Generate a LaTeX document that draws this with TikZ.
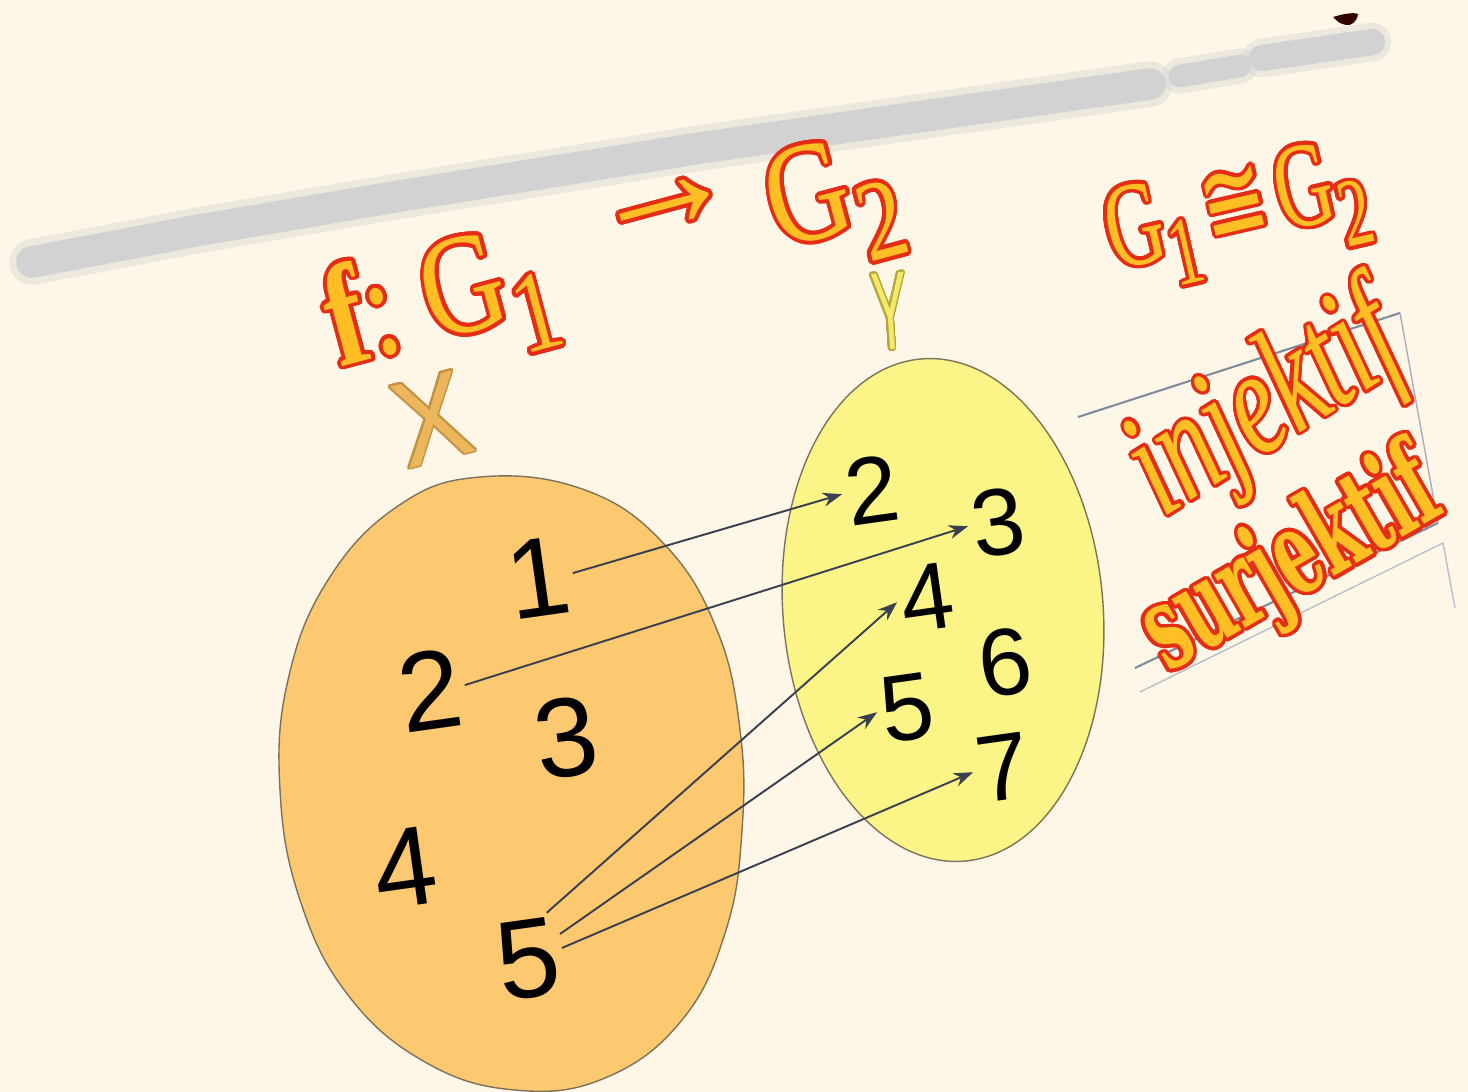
\documentclass[tikz,border=0pt]{standalone}
\usepackage{fontspec}
\setmainfont{Liberation Serif}
\newfontfamily\digitfont{Liberation Sans}
\newfontfamily\heavyfont{DejaVu Serif}
\newfontfamily\symbolfont{DejaVu Sans}
\usepackage{contour}
\contournumber{24}
\usetikzlibrary{arrows.meta, positioning}

\definecolor{paper}{RGB}{254,247,231}
\definecolor{setorange}{RGB}{252,200,112}
\definecolor{setyellow}{RGB}{251,245,135}
\definecolor{rimgray}{RGB}{125,115,90}
\definecolor{titlegold}{RGB}{255,190,35}
\definecolor{titlered}{RGB}{228,45,20}
\definecolor{mapline}{RGB}{58,64,80}
\definecolor{boxline}{RGB}{128,140,158}
\definecolor{smear}{RGB}{210,210,210}
\definecolor{xtan}{RGB}{236,182,92}
\definecolor{xbrown}{RGB}{196,146,70}
\definecolor{ylemon}{RGB}{246,232,105}
\definecolor{yolive}{RGB}{178,168,62}

\newcommand{\lowsub}[1]{\raisebox{-0.25em}{\scalebox{0.8}{#1}}}

\begin{document}
\begin{tikzpicture}[
    x=0.02cm, y=-0.02cm,
    % set elements
    elem/.style={font=\digitfont\fontsize{64}{64}\selectfont, inner sep=2pt, rotate=8},
    elemy/.style={elem, font=\digitfont\fontsize{54}{54}\selectfont},
    setrim/.style={draw=rimgray, line width=0.8pt},
    % mapping arrows
    maparrow/.style={draw=mapline, line width=1.1pt, -{Stealth[length=11pt,width=8pt]}},
    % outlined headline text
    fancy/.style={text=titlegold, inner sep=0pt},
    boxedge/.style={draw=boxline, line width=1.2pt},
    >={Stealth}
]

    % ==========================================
    % 1. BACKGROUND
    % ==========================================
    \fill[paper] (0,0) rectangle (1468,1092);
    \useasboundingbox (0,0) rectangle (1468,1092);

    % blurred smear across the top
    \draw[smear, opacity=0.4, line width=26pt, line cap=round, line join=round]
        (32,262) -- (200,230) -- (400,196) -- (700,148) -- (1150,84);
    \draw[smear, line width=18pt, line cap=round, line join=round]
        (32,262) -- (200,230) -- (400,196) -- (700,148) -- (1150,84);
    \draw[smear, opacity=0.4, line width=20pt, line cap=round] (1180,76) -- (1240,66);
    \draw[smear, line width=13pt, line cap=round] (1180,76) -- (1240,66);
    \draw[smear, opacity=0.4, line width=22pt, line cap=round] (1262,58) -- (1372,42);
    \draw[smear, line width=15pt, line cap=round] (1262,58) -- (1372,42);
    \fill[black!80!red] (1333,17) .. controls (1343,14) and (1353,12) .. (1358,14)
        .. controls (1357,22) and (1351,26) .. (1346,25) .. controls (1339,23) .. (1333,17);

    % text box edges on the right
    \draw[boxedge] (1078,417) -- (1400,313);
    \draw[boxedge, draw=boxline!70, line width=0.8pt] (1400,313) -- (1438,523);
    \draw[boxedge] (1135,668) -- (1438,523);
    \draw[boxedge, draw=boxline!55, line width=0.8pt] (1140,692) -- (1443,543) -- (1455,608);

    % ==========================================
    % 2. THE TWO SETS
    % ==========================================
    \draw[setrim, fill=setorange] plot[smooth cycle, tension=0.7] coordinates {
        (480,477) (585,490) (665,545) (717,630) (740,730) (742,830) (726,930)
        (682,1020) (605,1078) (515,1090) (425,1062) (348,995) (300,900)
        (280,790) (288,680) (328,580) (398,506)};
    \draw[setrim, fill=setyellow, rotate around={5:(943,610)}]
        (943,610) ellipse [x radius=160, y radius=252];

    % set names
    \node[text=xtan, rotate=15] (nameX) at (432,420)
        {\contourlength{1pt}\contour{xbrown}{\digitfont\fontsize{66}{66}\selectfont\scalebox{0.95}[1.05]{X}}};
    \node[text=ylemon, rotate=4] (nameY) at (890,312)
        {\contourlength{1pt}\contour{yolive}{\digitfont\fontsize{60}{60}\selectfont\scalebox{0.5}[1.05]{Y}}};

    % elements of X
    \node[elem] (a1) at (538,578) {1};
    \node[elem] (a2) at (430,690) {2};
    \node[elem] (a3) at (566,738) {3};
    \node[elem] (a4) at (405,868) {4};
    \node[elem] (a5) at (528,959) {5};

    % elements of Y
    \node[elemy] (b2) at (872,490) {2};
    \node[elemy] (b3) at (998,522) {3};
    \node[elemy] (b4) at (927,598) {4};
    \node[elemy] (b6) at (1005,662) {6};
    \node[elemy] (b5) at (907,708) {5};
    \node[elemy] (b7) at (1003,768) {7};

    % mapping
    \draw[maparrow] (a1.east) -- (b2.west);
    \draw[maparrow] (a2.east) -- (b3.west);
    \draw[maparrow] (a5.60) -- (b4.west);
    \draw[maparrow] (a5.30) -- (b5.west);
    \draw[maparrow] (a5.10) -- (b7.west);

    % ==========================================
    % 3. HEADLINES
    % ==========================================
    \node[fancy, rotate=15] (title) at (614,262)
        {\contourlength{2.2pt}\contour{titlered}{\fontsize{74}{74}\selectfont\scalebox{0.88}[1.1]{{\bfseries f}:\hspace{0.25em}G\lowsub{1}\hspace{0.45em}\raisebox{0.3em}{\scalebox{1.35}[1.2]{→}}\hspace{0.2em}G\lowsub{2}}}};
    \node[fancy, rotate=13] (iso) at (1238,218)
        {\contourlength{2pt}\contour{titlered}{\fontsize{60}{60}\selectfont\scalebox{0.75}[1.15]{G\lowsub{1}\hspace{0.12em}{\symbolfont ≅}\hspace{0.12em}G\lowsub{2}}}};
    \node[fancy, rotate=32] (inj) at (1268,410)
        {\contourlength{1.8pt}\contour{titlered}{\fontsize{60}{60}\selectfont\itshape\scalebox{1}[1.45]{injektif}}};
    \node[fancy, rotate=30] (surj) at (1293,566)
        {\contourlength{2pt}\contour{titlered}{\heavyfont\bfseries\fontsize{48}{48}\selectfont\scalebox{0.8}[1.4]{surjektif}}};

\end{tikzpicture}
\end{document}
